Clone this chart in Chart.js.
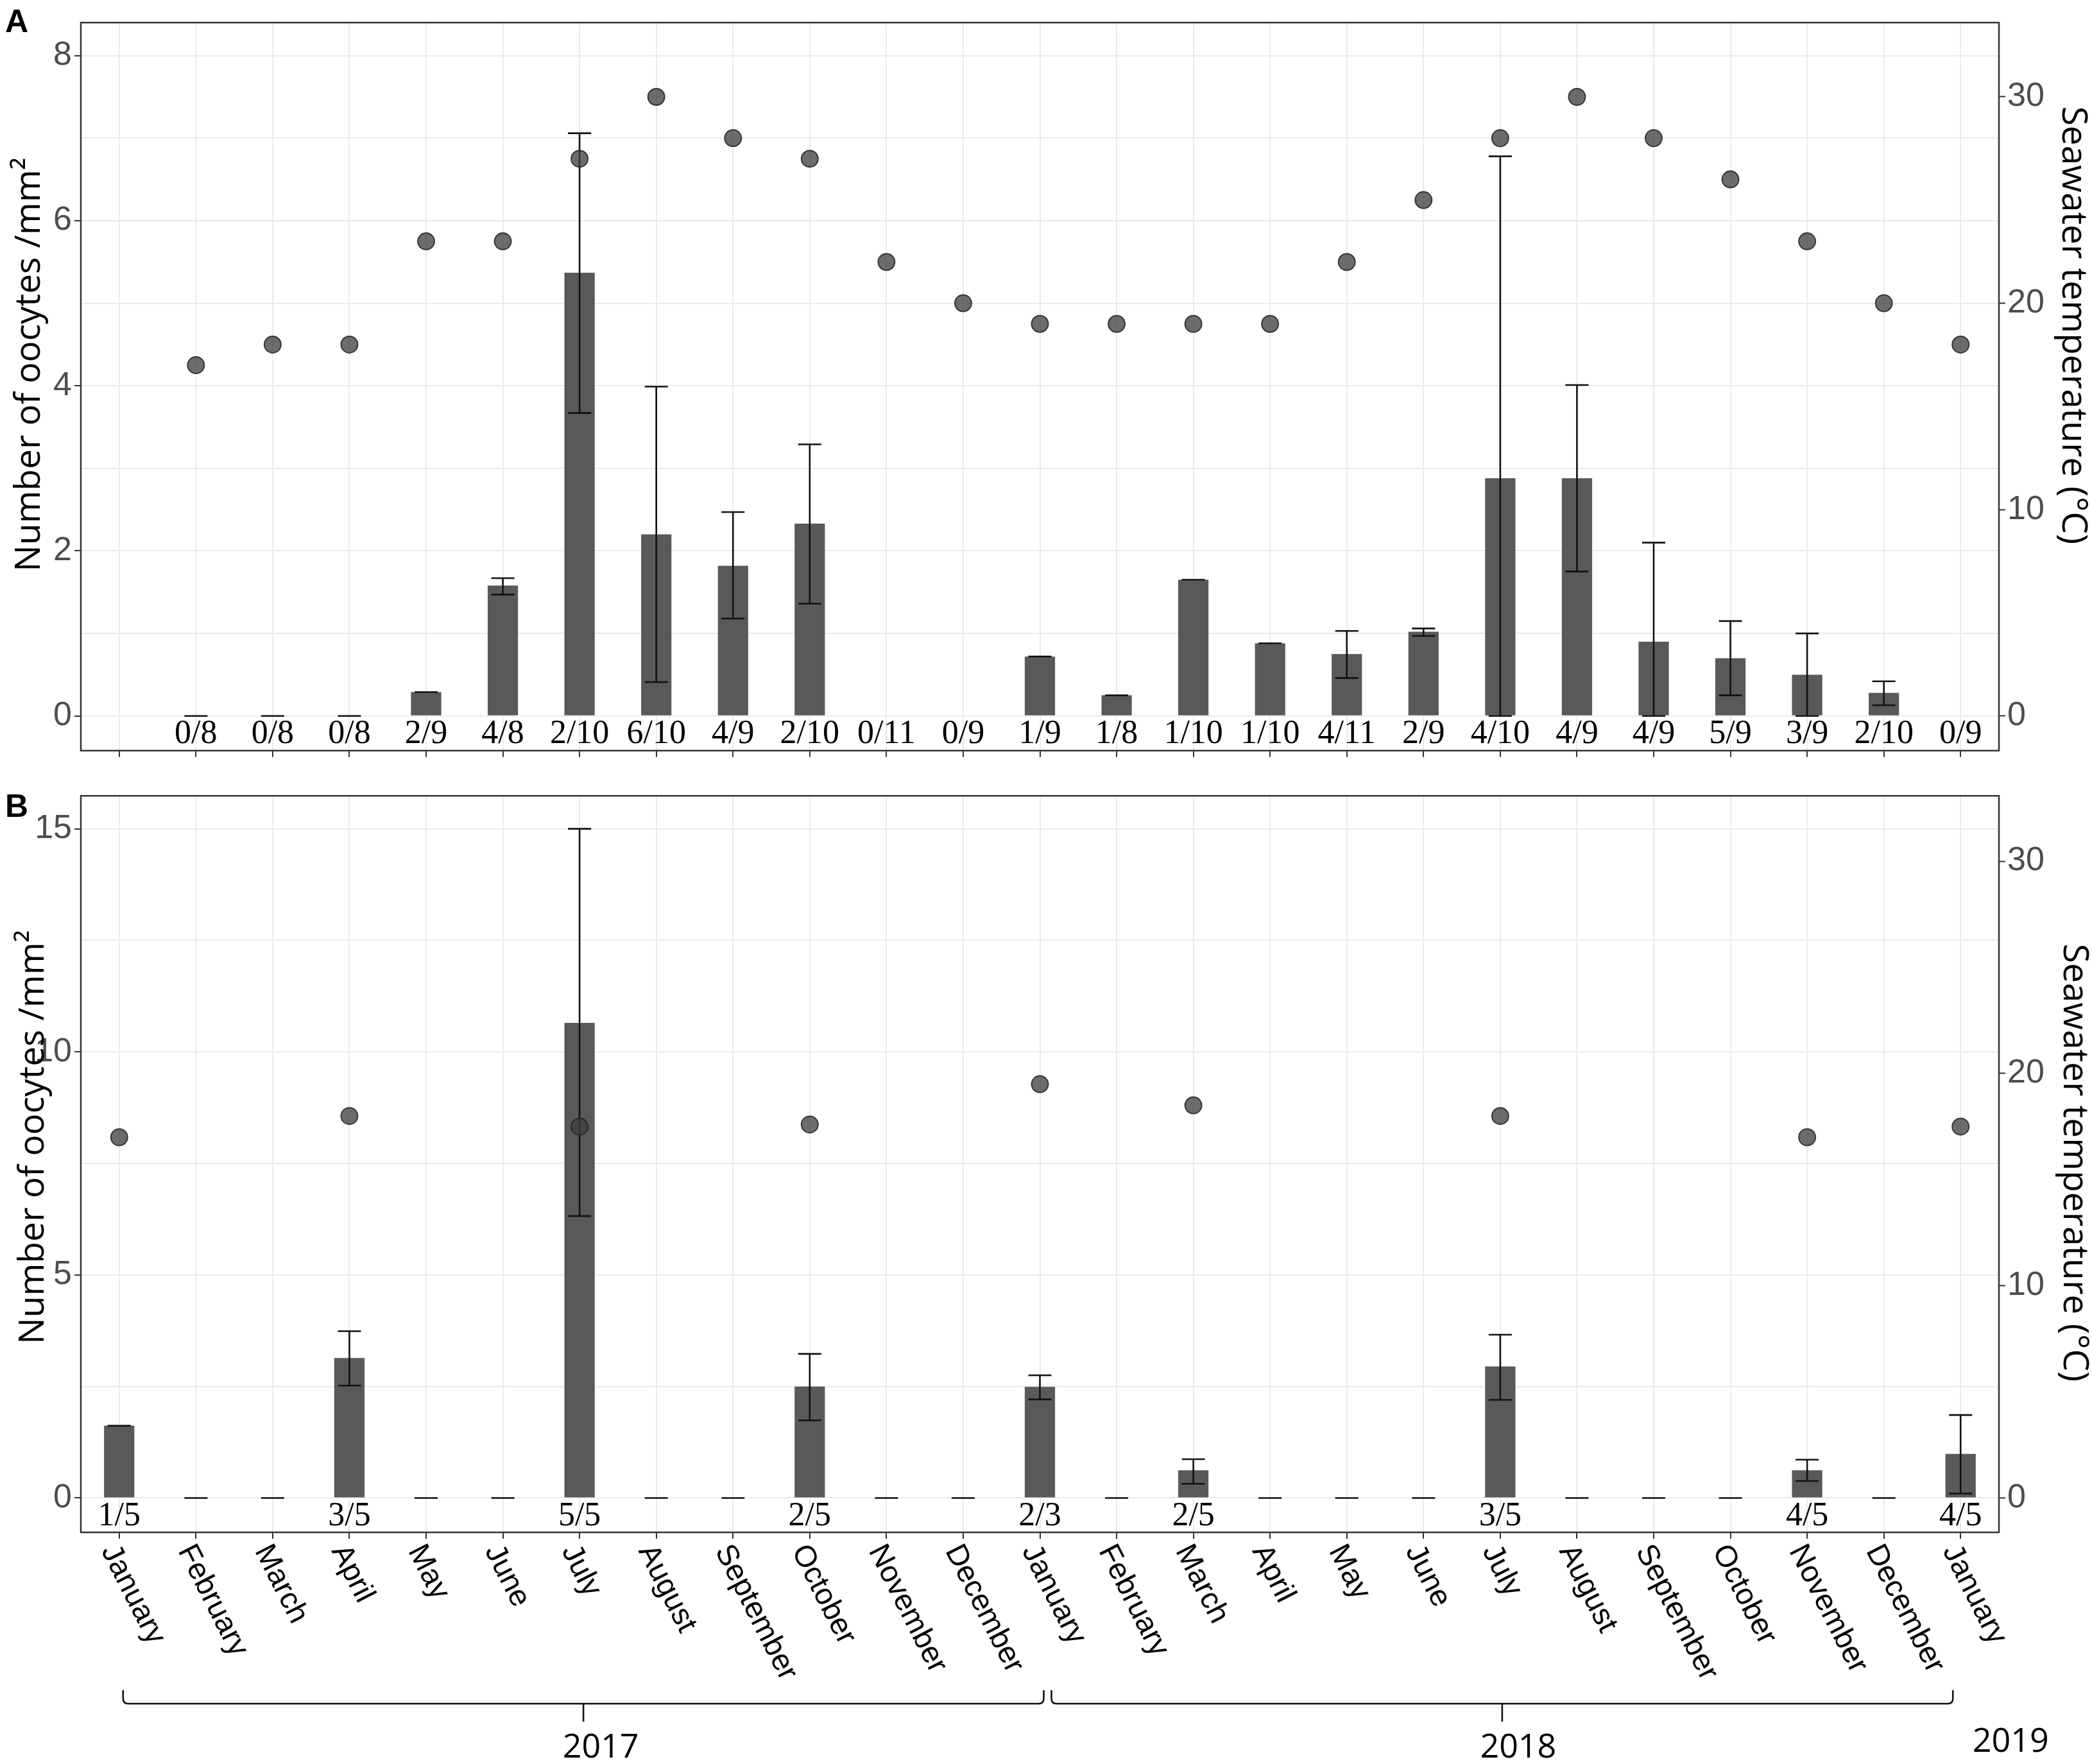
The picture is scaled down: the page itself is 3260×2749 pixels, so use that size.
<!DOCTYPE html>
<html>
<head>
<meta charset="utf-8">
<script src="https://cdn.jsdelivr.net/npm/chart.js@4.4.1/dist/chart.umd.min.js"></script>
<style>
html,body{margin:0;padding:0;background:#ffffff;}
#wrap{position:relative;width:3260px;height:2749px;background:#ffffff;}
canvas{position:absolute;left:0;}
</style>
</head>
<body>
<div id="wrap">
<canvas id="cA" width="3260" height="1205" style="top:0;width:3260px;height:1205px"></canvas>
<canvas id="cB" width="3260" height="1544" style="top:1205px;width:3260px;height:1544px"></canvas>
</div>
<script>
// ---------- categories ----------
const months = ['January','February','March','April','May','June','July','August','September','October','November','December',
                'January','February','March','April','May','June','July','August','September','October','November','December','January'];
const yearLabels = ['2017','2018','2019'];

// ---------- panel A ----------
const oocytesA = [null, 0, 0, 0, 0.29, 1.58, 5.37, 2.20, 1.82, 2.33, null, null,
                  0.72, 0.25, 1.65, 0.88, 0.75, 1.02, 2.88, 2.88, 0.90, 0.70, 0.50, 0.28, null];
const errLowA  = [null, 0, 0, 0, 0.29, 1.47, 3.67, 0.41, 1.18, 1.36, null, null,
                  0.72, 0.25, 1.65, 0.88, 0.46, 0.97, 0.00, 1.75, 0.00, 0.25, 0.00, 0.13, null];
const errHighA = [null, 0, 0, 0, 0.29, 1.67, 7.06, 3.99, 2.47, 3.29, null, null,
                  0.72, 0.25, 1.65, 0.88, 1.03, 1.06, 6.78, 4.01, 2.10, 1.15, 1.00, 0.42, null];
const tempA    = [null, 17, 18, 18, 23, 23, 27, 30, 28, 27, 22, 20,
                  19, 19, 19, 19, 22, 25, 28, 30, 28, 26, 23, 20, 18];
const countsA  = ['', '0/8', '0/8', '0/8', '2/9', '4/8', '2/10', '6/10', '4/9', '2/10', '0/11', '0/9',
                  '1/9', '1/8', '1/10', '1/10', '4/11', '2/9', '4/10', '4/9', '4/9', '5/9', '3/9', '2/10', '0/9'];

// ---------- panel B ----------
const oocytesB = [1.62, 0, 0, 3.14, 0, 0, 10.65, 0, 0, 2.50, 0, 0,
                  2.49, 0, 0.62, 0, 0, 0, 2.95, 0, 0, 0, 0.62, 0, 0.99];
const errLowB  = [1.62, 0, 0, 2.52, 0, 0, 6.32, 0, 0, 1.74, 0, 0,
                  2.21, 0, 0.32, 0, 0, 0, 2.20, 0, 0, 0, 0.38, 0, 0.10];
const errHighB = [1.62, 0, 0, 3.74, 0, 0, 15.0, 0, 0, 3.23, 0, 0,
                  2.75, 0, 0.87, 0, 0, 0, 3.66, 0, 0, 0, 0.86, 0, 1.86];
const tempB    = [17, null, null, 18, null, null, 17.5, null, null, 17.6, null, null,
                  19.5, null, 18.5, null, null, null, 18, null, null, null, 17, null, 17.5];
const countsB  = ['1/5', '', '', '3/5', '', '', '5/5', '', '', '2/5', '', '',
                  '2/3', '', '2/5', '', '', '', '3/5', '', '', '', '4/5', '', '4/5'];

const yTitle  = 'Number of oocytes /mm\u00B2';
const y2Title = 'Seawater temperature (\u00B0C)';

const SANS = '"Liberation Sans", Arial, sans-serif';
const SERIF = '"Liberation Serif", "Times New Roman", serif';
const TITLE_FONT = '"Open Sans", "DejaVu Sans", sans-serif';

function drawBracket(ctx, x1, x2, yTop, yLine, yTip) {
  const r = 8, mid = (x1 + x2) / 2;
  ctx.beginPath();
  ctx.moveTo(x1, yTop);
  ctx.lineTo(x1, yLine - r);
  ctx.quadraticCurveTo(x1, yLine, x1 + r, yLine);
  ctx.lineTo(x2 - r, yLine);
  ctx.quadraticCurveTo(x2, yLine, x2, yLine - r);
  ctx.lineTo(x2, yTop);
  ctx.moveTo(mid, yLine);
  ctx.lineTo(mid, yTip);
  ctx.stroke();
  return mid;
}

function makeDeco(cfg) {
  return {
    id: 'deco' + cfg.name,
    afterDatasetDraw(chart, args) {
      if (args.index !== 0) return;
      const ctx = chart.ctx, xs = chart.scales.x, ys = chart.scales.y;
      const cap = 18;
      ctx.save();
      ctx.strokeStyle = '#111111';
      ctx.lineWidth = 2.6;
      for (let i = 0; i < cfg.lo.length; i++) {
        const lo = cfg.lo[i], hi = cfg.hi[i];
        if (lo === null || hi === null) continue;
        const x = xs.getPixelForValue(i);
        const yl = ys.getPixelForValue(lo), yh = ys.getPixelForValue(hi);
        ctx.beginPath();
        if (yl !== yh) { ctx.moveTo(x, yl); ctx.lineTo(x, yh); }
        ctx.moveTo(x - cap, yh); ctx.lineTo(x + cap, yh);
        ctx.moveTo(x - cap, yl); ctx.lineTo(x + cap, yl);
        ctx.stroke();
      }
      ctx.restore();
    },
    afterDraw(chart) {
      const ctx = chart.ctx, xs = chart.scales.x, ys = chart.scales.y;
      const ca = chart.chartArea;
      ctx.save();
      // panel border
      ctx.strokeStyle = '#333333';
      ctx.lineWidth = 2.5;
      ctx.strokeRect(ca.left, ca.top, ca.right - ca.left, ca.bottom - ca.top);

      // sample counts
      ctx.fillStyle = '#000000';
      ctx.font = '52px ' + SERIF;
      ctx.textAlign = 'center';
      ctx.textBaseline = 'middle';
      const y0 = ys.getPixelForValue(0);
      cfg.counts.forEach((t, i) => {
        if (t) ctx.fillText(t, xs.getPixelForValue(i), y0 + 29);
      });

      // panel letter
      ctx.font = 'bold 50px ' + SANS;
      ctx.textAlign = 'left';
      ctx.textBaseline = 'alphabetic';
      ctx.fillText(cfg.letter, 8, cfg.letterY);

      // axis titles
      ctx.font = '55px ' + TITLE_FONT;
      ctx.textAlign = 'center';
      ctx.textBaseline = 'middle';
      ctx.save();
      ctx.translate(cfg.yTitlePos[0], cfg.yTitlePos[1]);
      ctx.rotate(-Math.PI / 2);
      ctx.fillText(yTitle, 0, 0);
      ctx.restore();
      ctx.save();
      ctx.translate(cfg.y2TitlePos[0], cfg.y2TitlePos[1]);
      ctx.rotate(Math.PI / 2);
      ctx.fillText(y2Title, 0, 0);
      ctx.restore();

      if (cfg.monthLabels) {
        // rotated month labels
        ctx.font = '47px ' + SANS;
        ctx.fillStyle = '#000000';
        ctx.textAlign = 'left';
        ctx.textBaseline = 'top';
        const ang = 63 * Math.PI / 180;
        months.forEach((m, i) => {
          ctx.save();
          ctx.translate(xs.getPixelForValue(i) + 4, ca.bottom + 12);
          ctx.rotate(ang);
          ctx.fillText(m, 0, 0);
          ctx.restore();
        });
        // year brackets
        ctx.strokeStyle = '#111111';
        ctx.lineWidth = 2.6;
        const yTop = ca.bottom + 246, yLine = ca.bottom + 267, yTip = ca.bottom + 295;
        const m1 = drawBracket(ctx, xs.getPixelForValue(0) + 6, xs.getPixelForValue(12) + 6, yTop, yLine, yTip);
        const m2 = drawBracket(ctx, xs.getPixelForValue(12) + 18, xs.getPixelForValue(24) - 12, yTop, yLine, yTip);
        ctx.font = '52px ' + TITLE_FONT;
        ctx.fillStyle = '#000000';
        ctx.textAlign = 'center';
        ctx.textBaseline = 'middle';
        ctx.fillText(yearLabels[0], m1 + 27, ca.bottom + 336);
        ctx.fillText(yearLabels[1], m2 + 25, ca.bottom + 336);
        ctx.fillText(yearLabels[2], xs.getPixelForValue(24) + 78, ca.bottom + 327);
      }
      ctx.restore();
    }
  };
}

function makeChart(id, p) {
  const lblStep = p.yLabelStep;
  return new Chart(document.getElementById(id), {
    type: 'bar',
    data: {
      labels: months,
      datasets: [
        {
          type: 'bar',
          data: p.bars,
          yAxisID: 'y',
          backgroundColor: '#595959',
          borderWidth: 0,
          barPercentage: 0.395,
          categoryPercentage: 1.0,
          order: 2
        },
        {
          type: 'line',
          data: p.temp,
          yAxisID: 'y2',
          showLine: false,
          pointRadius: 13,
          pointHoverRadius: 13,
          pointBackgroundColor: 'rgba(62,62,62,0.76)',
          pointBorderColor: 'rgba(35,35,35,0.85)',
          pointBorderWidth: 2,
          order: 1
        }
      ]
    },
    options: {
      responsive: false,
      devicePixelRatio: 1,
      animation: false,
      events: [],
      layout: { padding: { top: p.padTop, left: 0, right: 0, bottom: 0 } },
      plugins: { legend: { display: false }, tooltip: { enabled: false } },
      scales: {
        x: {
          type: 'category',
          offset: true,
          grid: { color: '#ebebeb', lineWidth: 2, offset: false, drawTicks: true, tickLength: 10, tickWidth: 2, tickColor: '#333333' },
          border: { display: false },
          ticks: { display: false, autoSkip: false },
          afterFit: (s) => { s.height = p.xHeight; }
        },
        y: {
          position: 'left',
          min: p.yMin,
          max: p.yMax,
          grid: {
            color: '#ebebeb', lineWidth: 2, tickLength: 10, tickWidth: 2,
            tickColor: (c) => (c.tick && Math.abs(c.tick.value % lblStep) < 1e-9) ? '#333333' : 'rgba(0,0,0,0)'
          },
          border: { display: false },
          ticks: {
            stepSize: p.yStep,
            includeBounds: false,
            autoSkip: false,
            padding: 4,
            color: '#4d4d4d',
            font: { family: SANS, size: 52 },
            callback: (v) => (Math.abs(v % lblStep) < 1e-9) ? String(v) : ''
          },
          afterFit: (s) => { s.width = 126; }
        },
        y2: {
          position: 'right',
          min: p.y2Min,
          max: p.y2Max,
          grid: { drawOnChartArea: false, tickLength: 10, tickWidth: 2, tickColor: '#333333' },
          border: { display: false },
          ticks: {
            stepSize: 10,
            includeBounds: false,
            autoSkip: false,
            padding: 3,
            color: '#4d4d4d',
            font: { family: SANS, size: 52 }
          },
          afterFit: (s) => { s.width = 145; }
        }
      }
    },
    plugins: [makeDeco(p.deco)]
  });
}

makeChart('cA', {
  bars: oocytesA, temp: tempA,
  padTop: 6, xHeight: 20,
  yMin: -0.42, yMax: 8.40, yStep: 1, yLabelStep: 2,
  y2Min: -1.68, y2Max: 33.6,
  deco: {
    name: 'A', lo: errLowA, hi: errHighA, counts: countsA,
    letter: 'A', letterY: 50,
    yTitlePos: [46, 568], y2TitlePos: [3230, 507],
    monthLabels: false
  }
});

makeChart('cB', {
  bars: oocytesB, temp: tempB,
  padTop: 22, xHeight: 361,
  yMin: -0.77, yMax: 15.74, yStep: 2.5, yLabelStep: 5,
  y2Min: -1.61, y2Max: 33.08,
  deco: {
    name: 'B', lo: errLowB, hi: errHighB, counts: countsB,
    letter: 'B', letterY: 68,
    yTitlePos: [52, 567], y2TitlePos: [3232, 607],
    monthLabels: true
  }
});
</script>
</body>
</html>
